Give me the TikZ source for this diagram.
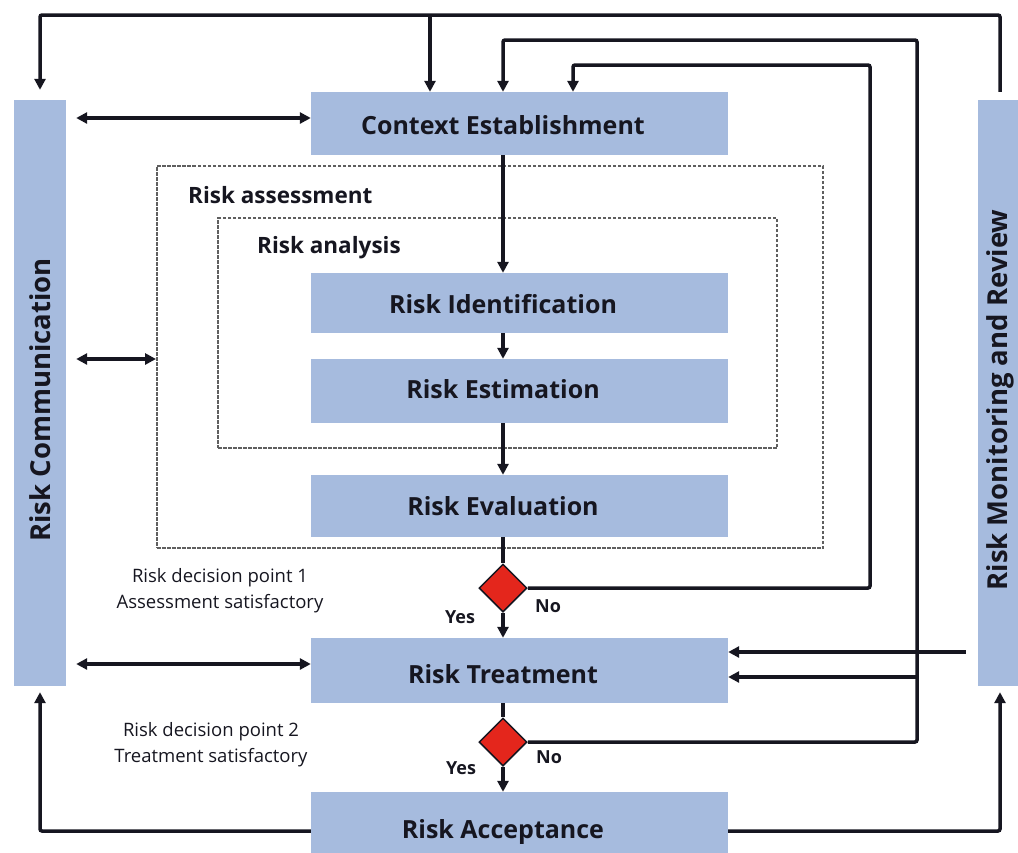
\documentclass[tikz,border=0pt]{standalone}
\usepackage{fontspec}
\setmainfont{Open Sans}
\usetikzlibrary{arrows.meta,shapes.geometric}
\definecolor{boxblue}{RGB}{166,187,222}
\definecolor{dred}{RGB}{228,38,28}
\definecolor{ink}{RGB}{22,22,32}
\definecolor{dashgray}{RGB}{95,95,95}

\begin{document}
\begin{tikzpicture}[x=1pt,y=-1pt,
  tip/.tip={Triangle[length=11pt,width=11pt]},
  flow/.style={line width=3.5pt, draw=ink, -tip, rounded corners=2pt},
  both/.style={line width=3.5pt, draw=ink, tip-tip},
  plain/.style={line width=3.5pt, draw=ink},
  stage/.style={fill=boxblue, inner sep=0pt, minimum width=417pt},
  sidebar/.style={fill=boxblue, inner sep=0pt, minimum height=586pt},
  stagetext/.style={anchor=base, inner sep=0pt, text=ink, font=\fontsize{25}{30}\selectfont\bfseries},
  sidetext/.style={rotate=90, inner sep=0pt, text=ink, font=\fontsize{27.5}{30}\selectfont\bfseries},
  groupbox/.style={draw=dashgray, line width=2pt, dash pattern=on 3.5pt off 1.5pt, inner sep=0pt},
  grouptext/.style={anchor=base west, inner sep=0pt, text=ink, font=\fontsize{22.5}{27}\selectfont\bfseries},
  decision/.style={diamond, aspect=1, fill=dred, draw=ink, line width=1.5pt, inner sep=0pt, minimum width=48pt, minimum height=48pt},
  answer/.style={anchor=center, inner sep=0pt, text=ink, font=\fontsize{18}{22}\selectfont\bfseries},
  note/.style={align=center, inner sep=0pt, text=ink, font=\fontsize{18.5}{26}\selectfont}
]
\useasboundingbox (0,0) rectangle (1018,852);

% dashed groupings
\node[groupbox, minimum width=666pt, minimum height=382pt] (assess) at (490,357) {};
\node[groupbox, minimum width=559pt, minimum height=230pt] (analysis) at (497.5,333) {};
\node[grouptext] (assess-t) at (188,203) {Risk assessment};
\node[grouptext] (analysis-t) at (257,253) {Risk analysis};

% process stages
\node[stage, minimum height=63pt] (ctx) at (519.5,123.5) {};
\node[stage, minimum height=60pt] (ident) at (519.5,303) {};
\node[stage, minimum height=64pt] (estim) at (519.5,391) {};
\node[stage, minimum height=62pt] (evalu) at (519.5,506) {};
\node[stage, minimum height=65pt] (treat) at (519.5,670.5) {};
\node[stage, minimum height=78pt] (accept) at (519.5,831) {};

\node[stagetext] (ctx-t) at (503,134) {Context Establishment};
\node[stagetext] (ident-t) at (503,313) {Risk Identification};
\node[stagetext] (estim-t) at (503,398) {Risk Estimation};
\node[stagetext] (evalu-t) at (503,515) {Risk Evaluation};
\node[stagetext] (treat-t) at (503,683) {Risk Treatment};
\node[stagetext] (accept-t) at (503,838) {Risk Acceptance};

% side bars
\node[sidebar, minimum width=52pt] (comm) at (40,393) {};
\node[sidebar, minimum width=44pt] (mon) at (1000,393) {};
\node[sidetext] (comm-t) at (40,400) {Risk Communication};
\node[sidetext] (mon-t) at (1000,400) {Risk Monitoring and Review};

% decision points
\node[decision] (d1) at (503,588) {};
\node[decision] (d2) at (503,742) {};
\node[answer] (yes1) at (460,617) {Yes};
\node[answer] (no1) at (548,606) {No};
\node[answer] (yes2) at (461,768) {Yes};
\node[answer] (no2) at (549,757) {No};
\node[note] (dp1) at (220,591) {Risk decision point 1\\Assessment satisfactory};
\node[note] (dp2) at (211,745) {Risk decision point 2\\Treatment satisfactory};

% reference coordinates
\coordinate (mid) at (503,0);
\coordinate (ctxin) at (430,15);
\coordinate (back1) at (573,0);
\coordinate (loop1) at (870,65);
\coordinate (loop2) at (917,40);
\coordinate (loop2b) at (917,677);
\coordinate (mtop) at (1000,15);
\coordinate (monin) at (0,652);

% main sequence
\draw[flow] (ctx.south -| mid) -- (ident.north -| mid);
\draw[flow] (ident.south -| mid) -- (estim.north -| mid);
\draw[flow] (estim.south -| mid) -- (evalu.north -| mid);
\draw[plain] (evalu.south -| mid) -- (d1.north);
\draw[flow] (d1.south) -- (treat.north -| mid);
\draw[plain] (treat.south -| mid) -- (d2.north);
\draw[flow] (d2.south) -- (accept.north -| mid);

% "No" feedback loops
\draw[flow] (d1.east) -| (loop1) -| (ctx.north -| back1);
\draw[flow] (d2.east) -| (loop2) -| (ctx.north -| mid);
\draw[flow] (loop2b) -- (treat.east |- loop2b);

% monitoring and review feedback
\draw[flow, shorten <=8pt, shorten >=10pt] (mon.north) -- (mtop) -| (comm.north);
\draw[flow] (ctxin) -- (ctx.north -| ctxin);
\draw[flow, shorten <=12pt] (mon.west |- monin) -- (treat.east |- monin);

% risk acceptance reported to both side activities
\draw[flow, shorten >=6pt] (accept.west) -| (comm.south);
\draw[flow, shorten >=6pt] (accept.east) -| (mon.south);

% communication exchanges
\coordinate (c1) at (0,118);
\coordinate (c2) at (0,359);
\coordinate (c3) at (0,664);
\draw[both, shorten <=10pt] (comm.east |- c1) -- (ctx.west |- c1);
\draw[both, shorten <=10pt] (comm.east |- c2) -- (assess.west |- c2);
\draw[both, shorten <=10pt] (comm.east |- c3) -- (treat.west |- c3);
\end{tikzpicture}
\end{document}
